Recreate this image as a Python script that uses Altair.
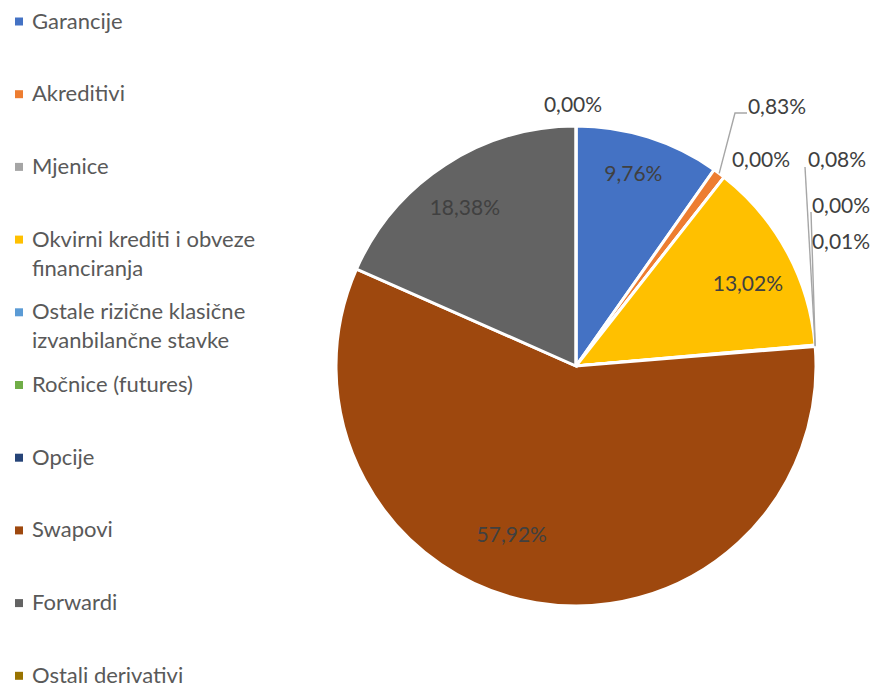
import math
import altair as alt
import pandas as pd

# ---- data ----
categories = [
    "Garancije",
    "Akreditivi",
    "Mjenice",
    "Okvirni krediti i obveze financiranja",
    "Ostale rizične klasične izvanbilančne stavke",
    "Ročnice (futures)",
    "Opcije",
    "Swapovi",
    "Forwardi",
    "Ostali derivativi",
]
legend_lines = [
    ["Garancije"],
    ["Akreditivi"],
    ["Mjenice"],
    ["Okvirni krediti i obveze", "financiranja"],
    ["Ostale rizične klasične", "izvanbilančne stavke"],
    ["Ročnice (futures)"],
    ["Opcije"],
    ["Swapovi"],
    ["Forwardi"],
    ["Ostali derivativi"],
]
values = [9.76, 0.83, 0.00, 13.02, 0.08, 0.00, 0.01, 57.92, 18.38, 0.00]
colors = ["#4472C4", "#ED7D31", "#A5A5A5", "#FFC000", "#5B9BD5",
          "#70AD47", "#264478", "#9E480E", "#636363", "#997300"]

# ---- layout (chart pixel coordinates) ----
W, H = 863, 681
CX, CY, R = 568, 358, 240
FONT = "Lato"
FS = 21
LEG_FS = 22

inside = {"Garancije", "Okvirni krediti i obveze financiranja", "Swapovi", "Forwardi"}
inside_nudge = {
    "Garancije": (-3, 0),
    "Swapovi": (-31, -27),
    "Okvirni krediti i obveze financiranja": (-4, 14),
    "Forwardi": (-2, 11),
}
# outside label placement, offsets from pie centre
outside_pos = {
    "Ostali derivativi": (-3, -260),
    "Akreditivi": (201, -258),
    "Mjenice": (185, -205),
    "Ostale rizične klasične izvanbilančne stavke": (261, -205),
    "Ročnice (futures)": (265, -159),
    "Opcije": (265, -123),
}
# leader line bend points, offsets from pie centre
leaders = {
    "Akreditivi": [(159, -253), (171, -253)],
    "Ostale rizične klasične izvanbilančne stavke": [(229, -199)],
    "Ročnice (futures)": [(235, -154)],
}

total = sum(values)
pie_df = pd.DataFrame({"cat": categories, "value": values, "idx": list(range(len(values)))})

lab_rows, line_rows = [], []
cum = 0.0
for c, v in zip(categories, values):
    mid = (cum + v / 2) / total * 2 * math.pi
    cum += v
    txt = f"{v:.2f}".replace(".", ",") + "%"
    if c in inside:
        r = 200
        x = CX + r * math.sin(mid)
        y = CY - r * math.cos(mid)
        dx, dy = inside_nudge.get(c, (0, 0))
        lab_rows.append({"x": x + dx, "y": y + dy, "t": txt})
    else:
        ox, oy = outside_pos[c]
        lab_rows.append({"x": CX + ox, "y": CY + oy, "t": txt})
    if c in leaders:
        pts = [(CX + R * math.sin(mid), CY - R * math.cos(mid))] + [(CX + a, CY + b) for a, b in leaders[c]]
        for k, (px, py) in enumerate(pts):
            line_rows.append({"x": px, "y": py, "o": k, "g": c})

lab_df = pd.DataFrame(lab_rows)
line_df = pd.DataFrame(line_rows)

leg_sq, leg_txt = [], []
for i, (c, lines) in enumerate(zip(categories, legend_lines)):
    y0 = 13.5 + 72.7 * i
    leg_sq.append({"cat": c, "x": 11, "y": y0})
    for j, ln in enumerate(lines):
        leg_txt.append({"t": ln, "x": 24, "y": y0 + 29 * j})
sq_df = pd.DataFrame(leg_sq)
lt_df = pd.DataFrame(leg_txt)

xs = alt.Scale(domain=[0, W], range=[0, W], nice=False, zero=False)
ys = alt.Scale(domain=[0, H], range=[0, H], nice=False, zero=False)
cscale = alt.Scale(domain=categories, range=colors)

pie = alt.Chart(pie_df).mark_arc(outerRadius=R, stroke="white", strokeWidth=3).encode(
    theta=alt.Theta("value:Q", stack=True),
    color=alt.Color("cat:N", scale=cscale, legend=None),
    order=alt.Order("idx:Q"),
    x=alt.value(CX),
    y=alt.value(CY),
)

lines = alt.Chart(line_df).mark_line(color="#A6A6A6", strokeWidth=1.4).encode(
    x=alt.X("x:Q", scale=xs, axis=None),
    y=alt.Y("y:Q", scale=ys, axis=None),
    detail="g:N",
    order="o:Q",
)

labels = alt.Chart(lab_df).mark_text(font=FONT, fontSize=FS, color="#404040",
                                     align="center", baseline="middle").encode(
    x=alt.X("x:Q", scale=xs, axis=None),
    y=alt.Y("y:Q", scale=ys, axis=None),
    text="t:N",
)

squares = alt.Chart(sq_df).mark_square(size=64, opacity=1).encode(
    x=alt.X("x:Q", scale=xs, axis=None),
    y=alt.Y("y:Q", scale=ys, axis=None),
    color=alt.Color("cat:N", scale=cscale, legend=None),
)

leg_text = alt.Chart(lt_df).mark_text(font=FONT, fontSize=LEG_FS, color="#595959",
                                      align="left", baseline="middle").encode(
    x=alt.X("x:Q", scale=xs, axis=None),
    y=alt.Y("y:Q", scale=ys, axis=None),
    text="t:N",
)

chart = alt.layer(pie, lines, labels, squares, leg_text).properties(
    width=W, height=H, autosize=alt.AutoSizeParams(type="none"), padding=0
).configure_view(stroke=None)

chart.save("out.html", embed_options={"renderer": "svg", "actions": False})
